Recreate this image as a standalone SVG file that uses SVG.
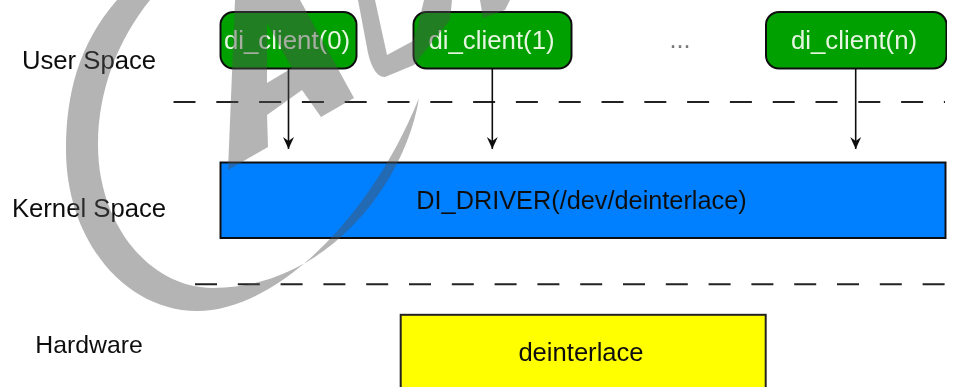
<svg xmlns="http://www.w3.org/2000/svg" width="959" height="387" viewBox="0 0 959 387">
<defs>
<style>
text{font-family:"Liberation Sans",Arial,sans-serif;font-size:25.3px;fill:#111;text-anchor:middle}
.client{fill:#00a000;stroke:#111;stroke-width:2}
.white{fill:#e6f5e0;font-size:25.8px}
.label{font-size:25.7px}
.dash{stroke:#222;stroke-width:2;fill:none;stroke-dasharray:22 20.8}
.conn{stroke:#111;stroke-width:1.6;fill:none;marker-end:url(#arr)}
.wm{fill:#515151;fill-opacity:.43}
</style>
<filter id="soft" x="0" y="0" width="100%" height="100%"><feGaussianBlur stdDeviation="0.45"/></filter>
<marker id="arr" markerUnits="userSpaceOnUse" markerWidth="16" markerHeight="16" viewBox="0 -8 16 16" refX="13" refY="0" orient="auto"><path d="M13 0L1 -5.5L5 0L1 5.5Z" fill="#111"/></marker>
</defs>
<rect width="959" height="387" fill="#fff"/>
<g filter="url(#soft)">
<g id="node-client0"><rect class="client" x="220.5" y="12" width="136" height="56.5" rx="13"/><text class="white" x="287" y="49">di_client(0)</text></g>
<g id="node-client1"><rect class="client" x="413.5" y="12" width="158" height="56.5" rx="13"/><text class="white" x="491.5" y="49">di_client(1)</text></g>
<g id="node-clientn"><rect class="client" x="766" y="12" width="180.5" height="56.5" rx="13"/><text class="white" x="854" y="49">di_client(n)</text></g>
<g id="node-driver"><rect x="220.5" y="162.5" width="725" height="75.5" fill="#007fff" stroke="#111" stroke-width="2"/><text x="581.5" y="209">DI_DRIVER(/dev/deinterlace)</text></g>
<g id="node-hw"><rect x="400.7" y="314.8" width="365" height="80" fill="#ff0" stroke="#222" stroke-width="2"/><text x="581" y="361" style="font-size:25.6px">deinterlace</text></g>
<g id="labels">
<text class="label" x="89" y="69">User Space</text>
<text class="label" x="89" y="217">Kernel Space</text>
<text x="89" y="353" style="font-size:24.8px">Hardware</text>
<text x="680" y="48" style="fill:#777">...</text>
</g>
<g id="connectors">
<path class="dash" d="M173.5 102H945"/>
<path class="dash" d="M195 284.3H945"/>
<path class="conn" d="M288.5 68.5V149"/>
<path class="conn" d="M492.3 68.5V149"/>
<path class="conn" d="M855.7 68.5V149"/>
</g>
<g id="watermark">
<path class="wm" d="M117 0C78 45 66 95 66 150C66 240 125 311 197 311C275 311 370 220 419 98C405 185 325 288 213 288C150 288 98 225 98 145C98 90 118 40 150 0Z"/>
<path class="wm" fill-rule="evenodd" d="M235 0L228 170L268 147L267 115L302 90L321 117L354 98L300 0ZM267 23L292 68L267 83Z"/>
<path class="wm" d="M358 0L368 53C372 70 378 77 385 77L414 65L450 20L452 0L424 0L418 25L413 41L387 55L375 0Z"/>
<path class="wm" d="M480 0L483 18L505 10L510 0Z"/>
</g>
</g>
</svg>
